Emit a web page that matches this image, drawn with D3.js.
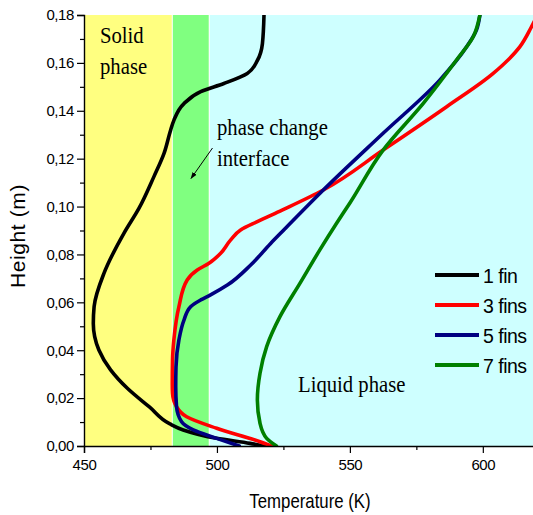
<!DOCTYPE html>
<html><head><meta charset="utf-8">
<script src="https://cdn.jsdelivr.net/npm/d3@7"></script>
<style>body{margin:0;background:#fff}svg{display:block}</style>
</head><body>
<svg id="c" width="533" height="515"></svg>
<script>
// ---- data ----
const xTicks = [450, 500, 550, 600];
const xMinor = [475, 525, 575];
const yTicks = [0, 0.02, 0.04, 0.06, 0.08, 0.10, 0.12, 0.14, 0.16, 0.18];
const yMinor = [0.01, 0.03, 0.05, 0.07, 0.09, 0.11, 0.13, 0.15, 0.17];
const solidMax = 483.2, mushyMax = 497.1;
const seriesNames = ["1 fin", "3 fins", "5 fins", "7 fins"];
const seriesColors = ["#000000", "#ff0000", "#000080", "#008000"];
// [temperature K, height m]
const fin1 = [[517.7,0.18],[517.1,0.168],[515.2,0.161],[511.4,0.1556],[502.6,0.1514],[493.9,0.148],[487.6,0.143],[483.8,0.136],[482.6,0.132],[480.1,0.1222],[476.3,0.1125],[470.7,0.0993],[465,0.0888],[457.5,0.0721],[453.8,0.0582],[453.5,0.0512],[455.6,0.0401],[460,0.0318],[466.3,0.0241],[474.6,0.0163],[482.3,0.0092],[487.3,0.0067],[499.9,0.0032],[512.4,0.0011],[518,0]];
const fin3 = [[520.5,0],[516.2,0.0018],[499.9,0.0074],[488.6,0.0122],[484.8,0.0164],[483.3,0.022],[483.2,0.0259],[483.3,0.036],[483.8,0.0443],[485.7,0.0582],[488.8,0.0693],[492.6,0.0735],[497,0.0763],[501.4,0.0805],[505.1,0.086],[508.9,0.0902],[515.2,0.0937],[524.5,0.0985],[540,0.1069],[562.5,0.1236],[586.4,0.1417],[603.9,0.1556],[613.9,0.1667],[618.3,0.1751],[621,0.181]];
const fin5 = [[508.4,0],[499.9,0.0032],[491.1,0.0067],[486.7,0.0101],[484.8,0.0164],[484.5,0.0248],[484.6,0.033],[485.7,0.0443],[487.6,0.0526],[490.1,0.0582],[493.9,0.061],[497.6,0.0631],[503.9,0.0672],[512.7,0.0756],[520.2,0.0846],[525.4,0.0905],[540,0.1069],[562.5,0.1306],[583.8,0.1528],[593.9,0.1667],[597.6,0.1737],[598.9,0.18]];
const fin7 = [[522.4,0],[518.7,0.0032],[516.2,0.0095],[515.2,0.0192],[516.2,0.0304],[518.7,0.0415],[523.7,0.054],[531.2,0.0679],[538.7,0.0819],[545,0.093],[550,0.1015],[562.5,0.1236],[577.6,0.1431],[590.1,0.1612],[596.4,0.1709],[598.9,0.18]];
const allSeries = [fin1, fin3, fin5, fin7];
const fmt = v => d3.format(".2f")(v).replace(".", ",");

// ---- drawing ----
const svg = d3.select("#c");
const x = d3.scaleLinear().domain([450, 620]).range([84, 536]);
const y = d3.scaleLinear().domain([0, 0.18]).range([446, 15]);

const defs = svg.append("defs");
defs.append("clipPath").attr("id","clip")
  .append("rect").attr("x",84).attr("y",15).attr("width",452).attr("height",431);

const bg = svg.append("g");
bg.append("rect").attr("x", x(450)).attr("y", y(0.18)).attr("width", x(solidMax)-x(450)).attr("height", y(0)-y(0.18)).attr("fill","#ffff80");
bg.append("rect").attr("x", x(solidMax)).attr("y", y(0.18)).attr("width", x(mushyMax)-x(solidMax)).attr("height", y(0)-y(0.18)).attr("fill","#80ff80");
bg.append("rect").attr("x", x(mushyMax)).attr("y", y(0.18)).attr("width", x(620)-x(mushyMax)).attr("height", y(0)-y(0.18)).attr("fill","#ceffff");
[solidMax, mushyMax].forEach(t => bg.append("line").attr("x1",x(t)).attr("x2",x(t)).attr("y1",y(0.18)).attr("y2",y(0)).attr("stroke","#fff").attr("stroke-width",1));

// text labels
const serif = "'Liberation Serif','Times New Roman',serif";
function stext(t, px, py){
  svg.append("text").attr("transform",`translate(${px},${py}) scale(0.9,1)`)
    .attr("font-family",serif).attr("font-size",23).attr("fill","#000").text(t);
}
stext("Solid", 100, 43);
stext("phase", 100, 74);
stext("phase change", 217, 135);
stext("interface", 217, 166);
stext("Liquid phase", 298, 392);

// arrow
defs.append("marker").attr("id","ah").attr("viewBox","0 0 10 10").attr("refX",9).attr("refY",5)
  .attr("markerWidth",7).attr("markerHeight",7).attr("orient","auto")
  .append("path").attr("d","M0,1.5L10,5L0,8.5Z").attr("fill","#000");
svg.append("line").attr("x1",212.5).attr("y1",148).attr("x2",191).attr("y2",178.5).attr("stroke","#000").attr("stroke-width",1).attr("marker-end","url(#ah)");

// curves
const line = d3.line().x(d => x(d[0])).y(d => y(d[1])).curve(d3.curveMonotoneY);
const cg = svg.append("g").attr("clip-path","url(#clip)");
allSeries.forEach((s, i) => {
  const pts = s.slice().sort((a, b) => b[1] - a[1]);
  cg.append("path").attr("d", line(pts)).attr("fill","none").attr("stroke", seriesColors[i]).attr("stroke-width",3.6).attr("stroke-linejoin","round").attr("stroke-linecap","round");
});

// axes
const sans = "'Liberation Sans',Arial,sans-serif";
svg.append("g").attr("transform","translate(0,446)")
  .call(d3.axisBottom(x).tickValues(xTicks).tickSize(7).tickPadding(6).tickFormat(d3.format("d")));
svg.append("g").attr("transform","translate(0,446)")
  .call(d3.axisBottom(x).tickValues(xMinor).tickSize(4).tickFormat(""))
  .call(g => g.select(".domain").remove());
svg.append("g").attr("transform","translate(84,0)")
  .call(d3.axisLeft(y).tickValues(yTicks).tickSize(7).tickPadding(3).tickFormat(fmt));
svg.append("g").attr("transform","translate(84,0)")
  .call(d3.axisLeft(y).tickValues(yMinor).tickSize(4).tickFormat(""))
  .call(g => g.select(".domain").remove());
svg.selectAll(".tick text").attr("font-family",sans).attr("font-size",15).attr("letter-spacing",-0.4).attr("fill","#000");
svg.selectAll(".tick line").attr("stroke","#000").attr("stroke-width",1.2);
svg.selectAll(".domain").attr("stroke","#000").attr("stroke-width",1.4);

// axis titles
svg.append("text").attr("transform","translate(310,508) scale(0.84,1)").attr("text-anchor","middle").attr("font-family",sans).attr("font-size",20).text("Temperature (K)");
svg.append("text").attr("transform","translate(25,236) rotate(-90)").attr("text-anchor","middle").attr("font-family",sans).attr("font-size",21).attr("letter-spacing",0.6).text("Height (m)");

// legend
const lg = svg.append("g");
seriesNames.forEach((n, i) => {
  const ly = 275 + i*30;
  lg.append("line").attr("x1",435).attr("x2",479).attr("y1",ly).attr("y2",ly).attr("stroke",seriesColors[i]).attr("stroke-width",4);
  lg.append("text").attr("x",483).attr("y",ly+7.5).attr("font-family",sans).attr("font-size",19.5).attr("letter-spacing",-0.5).attr("fill","#000").text(n);
});
</script>
</body></html>
